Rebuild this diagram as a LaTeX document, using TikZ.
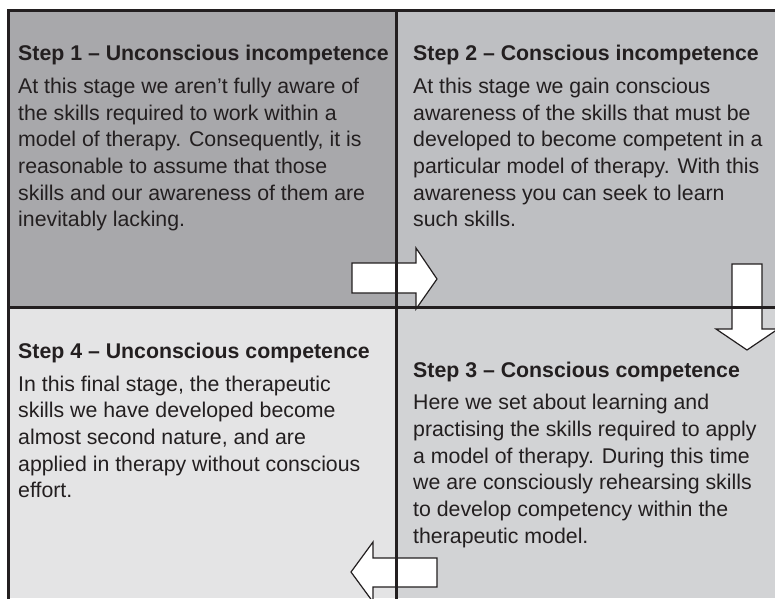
\documentclass[tikz,border=0pt]{standalone}
\usepackage{fontspec}
\setmainfont{Liberation Sans}
\usepackage{tikz}
\definecolor{ink}{HTML}{231F20}
\definecolor{stepa}{HTML}{A8A8AB}
\definecolor{stepb}{HTML}{BEBFC2}
\definecolor{stepc}{HTML}{D2D3D5}
\definecolor{stepd}{HTML}{E4E4E5}
\begin{document}
\begin{tikzpicture}[x=1pt,y=-1pt,line join=miter,
  steptext/.style={anchor=base west,inner sep=0pt,align=left,text=ink,
    font=\fontsize{21.3}{26.67}\selectfont},
  stephead/.style={steptext,font=\fontsize{21.3}{26.67}\selectfont\bfseries},
  blockarrow/.style={fill=white,draw=ink,line width=1.2pt},
  rule/.style={draw=ink,line width=3pt}]
\useasboundingbox (0,0) rectangle (775,598);
\fill[stepa] (8,10) rectangle (396,307);
\fill[stepb] (396,10) rectangle (775,307);
\fill[stepd] (8,307) rectangle (396,598);
\fill[stepc] (396,307) rectangle (775,598);
\draw[blockarrow] (352,263) -- (416,263) -- (416,248) -- (437,279) -- (416,309) -- (416,293) -- (352,293) -- cycle;
\draw[blockarrow] (732,264) -- (762,264) -- (762,329) -- (778,329) -- (747,350) -- (716,329) -- (732,329) -- cycle;
\draw[blockarrow] (437,558) -- (373,558) -- (373,542) -- (351,572) -- (373,602) -- (373,587) -- (437,587) -- cycle;
\draw[rule] (8,610) -- (8,10) -- (780,10);
\draw[rule] (396,10) -- (396,610);
\draw[rule] (8,307) -- (780,307);
% multi-line nodes sit on the baseline of their last line
\node[stephead] (s1head) at (18,60) {Step 1 – Unconscious incompetence};
\node[steptext] (s1body) at (18,226.7) {At this stage we aren’t fully aware of\\the skills required to work within a\\model of therapy. Consequently, it is\\reasonable to assume that those\\skills and our awareness of them are\\inevitably lacking.};
\node[stephead] (s2head) at (413,60) {Step 2 – Conscious incompetence};
\node[steptext] (s2body) at (413,226.7) {At this stage we gain conscious\\awareness of the skills that must be\\developed to become competent in a\\particular model of therapy. With this\\awareness you can seek to learn\\such skills.};
\node[stephead] (s3head) at (413,377) {Step 3 – Conscious competence};
\node[steptext] (s3body) at (413,543.3) {Here we set about learning and\\practising the skills required to apply\\a model of therapy. During this time\\we are consciously rehearsing skills\\to develop competency within the\\therapeutic model.};
\node[stephead] (s4head) at (18,358) {Step 4 – Unconscious competence};
\node[steptext] (s4body) at (18,497.7) {In this final stage, the therapeutic\\skills we have developed become\\almost second nature, and are\\applied in therapy without conscious\\effort.};
\end{tikzpicture}
\end{document}
